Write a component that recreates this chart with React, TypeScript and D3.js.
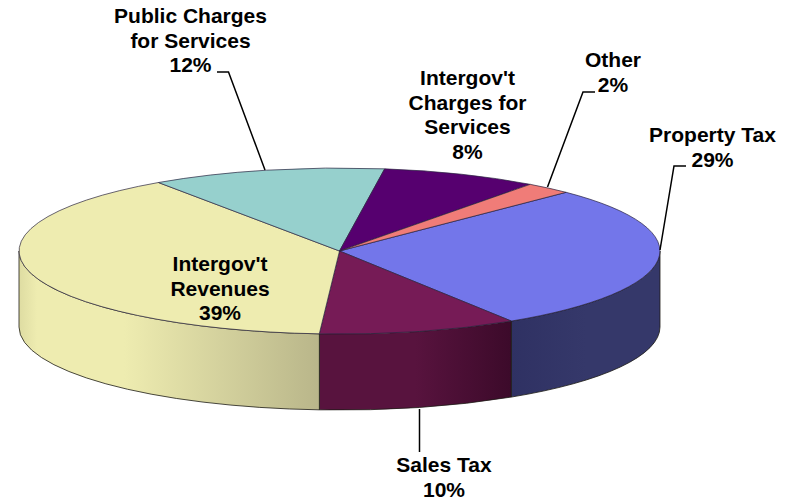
import React from 'react';
import * as d3 from 'd3';

const categories = ['Property Tax', 'Sales Tax', "Intergov't Revenues", 'Public Charges for Services', "Intergov't Charges for Services", 'Other'];
const shares = [28.5, 10, 39.45, 11.8, 7.9, 2.35];
const topColors = ['#7376ea', '#761b56', '#eeecb0', '#96d0cd', '#56006f', '#f07c78'];
const wallLight = ['#35386a', '#58133e', '#eeecb0', '#96d0cd', '#56006f', '#f07c78'];
const wallDark = ['#2f3163', '#3c0a2a', '#b9b68a', '#96d0cd', '#56006f', '#f07c78'];
const labelLines = [['Property Tax'], ['Sales Tax'], ["Intergov't", 'Revenues'], ['Public Charges', 'for Services'], ["Intergov't", 'Charges for', 'Services'], ['Other']];

// label placement, centre x + first baseline
const labelPos: [number, number][] = [[712.5, 142], [444, 472], [220, 271], [190.5, 23], [467.5, 85], [613, 67]];
const leaders: [number, number][][] = [
  [[686, 166], [674, 166], [660, 250]],
  [[419.5, 409], [419.5, 452]],
  [],
  [[217, 72], [228.5, 72], [265, 170]],
  [],
  [[595, 92], [583, 92], [547.5, 187]],
];

const W = 797, H = 500;
const cx = 339.5, cy = 251, rx = 320.5, ry = 83, depth = 76;
const lineH = 24.5;

const App = () => {
  const arcs = d3.pie<number>().sort(null).value(d => d)
    .startAngle(Math.PI / 4).endAngle(Math.PI / 4 + 2 * Math.PI)(shares);
  const arcGen = d3.arc<d3.PieArcDatum<number>>().innerRadius(0).outerRadius(1);
  const px = (a: number) => cx + rx * Math.sin(a);
  const py = (a: number) => cy - ry * Math.cos(a);

  // front wall of a slice, only the part between 3 and 9 o'clock shows
  const wall = (start: number, end: number) => {
    const a0 = Math.max(start, Math.PI / 2);
    const a1 = Math.min(end, 1.5 * Math.PI);
    if (a1 <= a0) return null;
    return `M${px(a0)},${py(a0)}A${rx},${ry} 0 0 1 ${px(a1)},${py(a1)}` +
      `L${px(a1)},${py(a1) + depth}A${rx},${ry} 0 0 0 ${px(a0)},${py(a0) + depth}Z`;
  };

  return (
    <svg width={W} height={H} style={{ position: 'absolute', left: 0, top: 0, background: '#fff' }}>
      <defs>
        {arcs.map((d, i) => {
          const a0 = Math.max(d.startAngle, Math.PI / 2);
          const a1 = Math.min(d.endAngle, 1.5 * Math.PI);
          const xs = d3.extent([px(a0), px(a1)]) as [number, number];
          return (
            <linearGradient key={i} id={`wall${i}`} gradientUnits="userSpaceOnUse" x1={xs[0]} x2={xs[1]} y1={0} y2={0}>
              {i === 2 && <stop offset="0" stopColor="#dedca2" />}
              <stop offset={i === 2 ? 0.06 : 0} stopColor={i === 0 ? wallDark[i] : wallLight[i]} />
              <stop offset={i === 2 ? 0.35 : 0.5} stopColor={wallLight[i]} />
              <stop offset="1" stopColor={i === 0 ? wallLight[i] : wallDark[i]} />
            </linearGradient>
          );
        })}
      </defs>
      {arcs.map((d, i) => {
        const p = wall(d.startAngle, d.endAngle);
        return p && <path key={i} d={p} fill={`url(#wall${i})`} stroke="#1c1a14" strokeWidth={0.8} />;
      })}
      <g transform={`translate(${cx},${cy}) scale(${rx},${ry})`}>
        {arcs.map((d, i) => (
          <path key={i} d={arcGen(d) as string} fill={topColors[i]} stroke="#2a2440" strokeWidth={0.7}
            vectorEffect="non-scaling-stroke" />
        ))}
      </g>
      {leaders.map((pts, i) => pts.length > 0 && (
        <path key={i} d={d3.line()(pts) as string} fill="none" stroke="#000" strokeWidth={1.5} />
      ))}
      {categories.map((c, i) => {
        const [x, y] = labelPos[i];
        const lines = [...labelLines[i], `${Math.round(shares[i])}%`];
        return (
          <text key={c} x={x} y={y} textAnchor="middle" fontFamily="'Liberation Sans', Arial, sans-serif"
            fontWeight="bold" fontSize={21} fill="#000">
            {lines.map((l, j) => <tspan key={j} x={x} dy={j === 0 ? 0 : lineH}>{l}</tspan>)}
          </text>
        );
      })}
    </svg>
  );
};

export default App;
